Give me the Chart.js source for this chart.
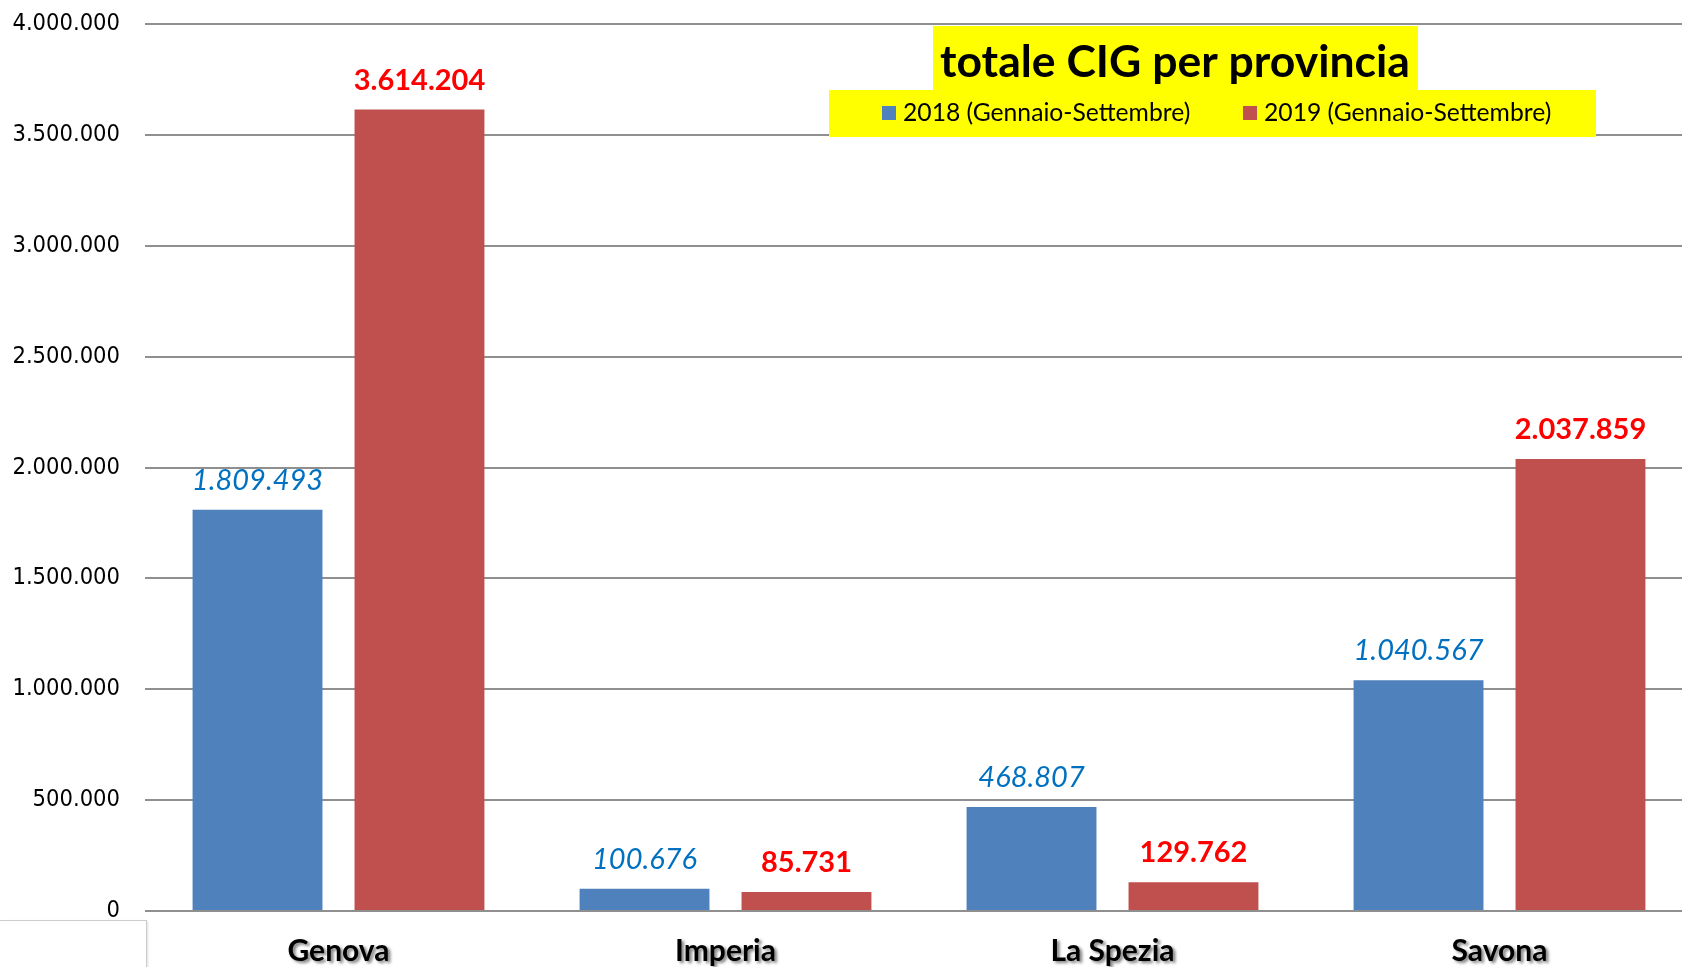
<!DOCTYPE html>
<html><head><meta charset="utf-8">
<script src="https://cdn.jsdelivr.net/npm/chart.js@4.4.1/dist/chart.umd.min.js"></script>
<style>
html,body{margin:0;padding:0;background:#fff;overflow:hidden;width:1682px;height:967px;}
#wrap{position:absolute;left:0;top:0;width:1693px;height:967px;}
#corner{position:absolute;left:0;top:920px;width:146px;height:60px;border-top:1px solid #cccccc;border-right:1px solid #cccccc;box-shadow:1px 1px 2px rgba(0,0,0,0.12);}
</style></head><body>
<div id="wrap"><canvas id="c"></canvas></div>
<div id="corner"></div>
<script>
const categories = ['Genova', 'Imperia', 'La Spezia', 'Savona'];
const series2018 = [1809493, 100676, 468807, 1040567];
const series2019 = [3614204, 85731, 129762, 2037859];
const seriesLabels = ['2018 (Gennaio-Settembre)', '2019 (Gennaio-Settembre)'];
const yMin = 0, yMax = 4000000, yStep = 500000;
const titleText = 'totale CIG per provincia';

const COL_BLUE = '#4F81BD', COL_RED = '#C0504D';
const LBL_BLUE = '#0070C0', LBL_RED = '#FF0000';

function fmt(n){ return String(n).replace(/\B(?=(\d{3})+(?!\d))/g, '.'); }

const overlay = {
  id: 'overlay',
  beforeDraw(chart){
    const ctx = chart.ctx, xs = chart.scales.x;
    ctx.save();
    ctx.font = 'bold 30px Lato';
    ctx.fillStyle = 'rgba(0,0,0,0.5)';
    ctx.filter = 'blur(1.5px)';
    xs.getLabelItems().forEach(item => {
      const [x, y] = item.options.translation;
      ctx.textAlign = item.options.textAlign;
      ctx.textBaseline = item.options.textBaseline;
      ctx.fillText(item.label, x + 2.5, y + item.textOffset + 2.5);
    });
    ctx.restore();
  },
  afterDatasetsDraw(chart){
    const ctx = chart.ctx;
    ctx.save();
    ctx.textAlign = 'center';
    ctx.textBaseline = 'alphabetic';
    chart.data.datasets.forEach((ds, di) => {
      const meta = chart.getDatasetMeta(di);
      ctx.font = di === 0 ? 'italic 29px Lato' : 'bold 29px Lato';
      ctx.fillStyle = di === 0 ? LBL_BLUE : LBL_RED;
      meta.data.forEach((bar, i) => {
        ctx.fillText(fmt(ds.data[i]), bar.x, bar.y - 20);
      });
    });
    ctx.restore();
  },
  afterDraw(chart){
    const ctx = chart.ctx;
    ctx.save();
    ctx.fillStyle = '#FFFF00';
    ctx.fillRect(933, 26, 485, 65);
    ctx.fillRect(829, 90, 767, 47);
    ctx.fillStyle = '#000';
    ctx.font = 'bold 44.5px Lato';
    ctx.textAlign = 'center';
    ctx.textBaseline = 'alphabetic';
    ctx.fillText(titleText, 1175, 77);
    ctx.font = '24.7px Lato';
    ctx.textAlign = 'left';
    const sq = [882, 1243];
    chart.data.datasets.forEach((ds, di) => {
      ctx.fillStyle = ds.backgroundColor;
      ctx.fillRect(sq[di], 106, 14, 14);
      ctx.fillStyle = '#000';
      ctx.fillText(ds.label, sq[di] + 21, 121);
    });
    ctx.restore();
  }
};

function build(){
  new Chart(document.getElementById('c'), {
    type: 'bar',
    data: {
      labels: categories,
      datasets: [
        { label: seriesLabels[0], data: series2018, backgroundColor: COL_BLUE, borderWidth: 0 },
        { label: seriesLabels[1], data: series2019, backgroundColor: COL_RED, borderWidth: 0 }
      ]
    },
    options: {
      responsive: true,
      maintainAspectRatio: false,
      animation: false,
      categoryPercentage: 0.837,
      barPercentage: 0.802,
      layout: { padding: { top: 24, left: 0, right: 0, bottom: 0 } },
      plugins: { legend: { display: false }, title: { display: false }, tooltip: { enabled: false } },
      scales: {
        x: {
          grid: { display: false },
          border: { display: false },
          ticks: { color: '#000', font: { family: 'Lato', size: 30, weight: 'bold' }, padding: 14 },
          afterFit(s){ s.height = 56; }
        },
        y: {
          min: yMin, max: yMax,
          grid: { color: '#8f8f8f', lineWidth: 2, drawTicks: true, tickLength: 25, tickColor: 'rgba(0,0,0,0)' },
          border: { display: false },
          ticks: { stepSize: yStep, color: '#000', padding: 0,
            font: { family: "'DejaVu Sans Condensed', 'DejaVu Sans'", size: 23.5 },
            callback: v => fmt(v) },
          afterFit(s){ s.width = 145; }
        }
      }
    },
    plugins: [overlay]
  });
}
Promise.all([
  document.fonts.load('bold 30px Lato'),
  document.fonts.load('italic 29px Lato'),
  document.fonts.load('24px Lato'),
  document.fonts.load("24px 'DejaVu Sans Condensed'")
]).then(build, build);
</script>
</body></html>
